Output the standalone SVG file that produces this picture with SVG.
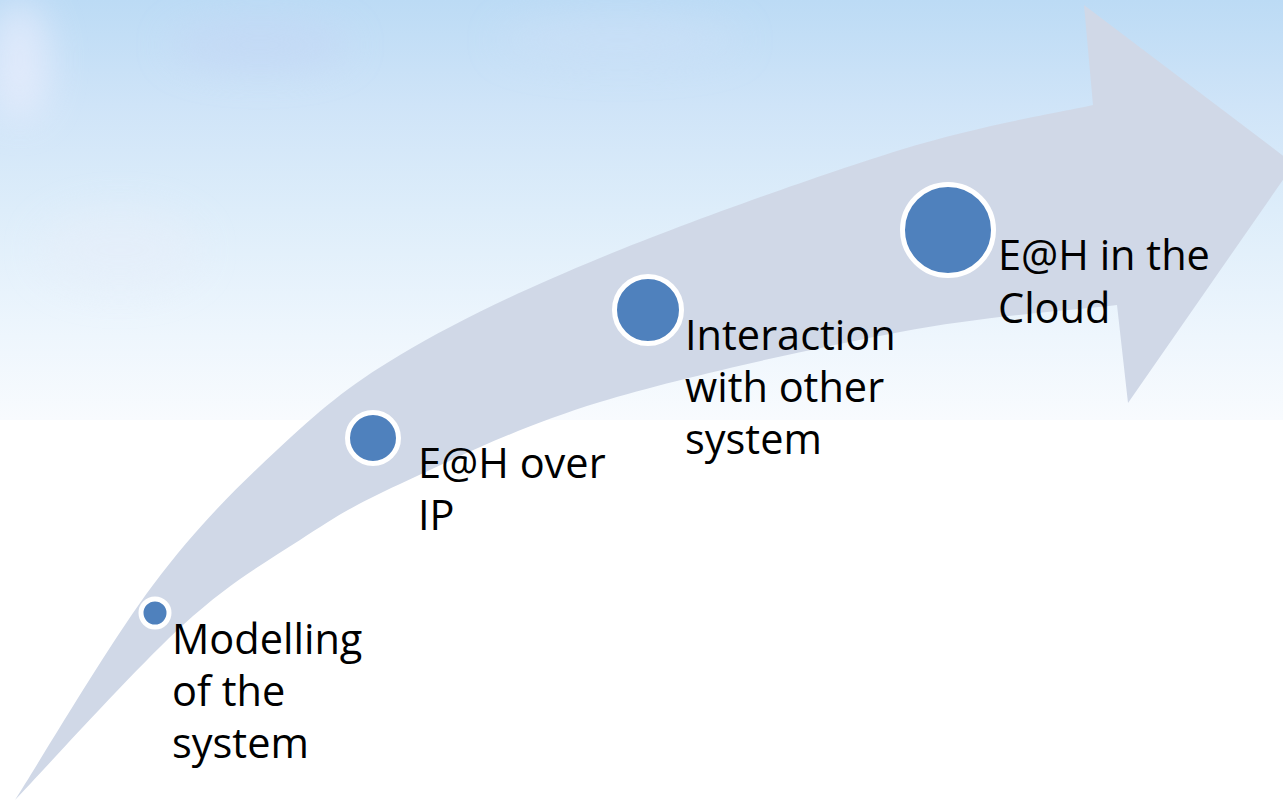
<svg xmlns="http://www.w3.org/2000/svg" width="1283" height="805" viewBox="0 0 1283 805">
  <defs>
    <linearGradient id="sky" x1="0" y1="0" x2="0" y2="1">
      <stop offset="0" stop-color="#bcdbf5"/>
      <stop offset="0.25" stop-color="#cfe4f8"/>
      <stop offset="0.5" stop-color="#ddedfa"/>
      <stop offset="0.8" stop-color="#eef6fd"/>
      <stop offset="1" stop-color="#f8fbfe"/>
    </linearGradient>
    <filter id="blur" x="-50%" y="-50%" width="200%" height="200%">
      <feGaussianBlur stdDeviation="18"/>
    </filter>
    <style>
      .lbl { font-family: "Open Sans", "Noto Sans", "Liberation Sans", sans-serif; font-size: 41.5px; fill: #000000; }
      .dot { fill: #4f81bd; stroke: #ffffff; stroke-width: 5; }
      .arrow { fill: #d0d8e7; }
    </style>
  </defs>

  <rect x="0" y="0" width="1283" height="805" fill="#ffffff"/>
  <rect x="0" y="0" width="1283" height="420" fill="url(#sky)"/>
  <g id="clouds" filter="url(#blur)" opacity="0.55">
    <ellipse cx="20" cy="60" rx="30" ry="60" fill="#f4f2ff"/>
    <ellipse cx="260" cy="45" rx="90" ry="25" fill="#c4d6f5"/>
    <ellipse cx="620" cy="40" rx="120" ry="22" fill="#cde0f7"/>
    <ellipse cx="120" cy="250" rx="80" ry="40" fill="#e6eef9"/>
  </g>

  <g id="connectors">
    <path class="arrow" d="M 15,800
      C 38,764.2 109.3,643.3 153,585
      C 196.7,526.7 235.8,488.3 277,450
      C 318.2,411.7 346.2,387 400,355
      C 453.8,323 516.7,292.2 600,258
      C 683.3,223.8 817.8,175.5 900,150
      C 982.2,124.5 1060.8,112.5 1093,105
      L 1084,5
      L 1294,164
      L 1128,403
      L 1117,305
      C 1080.8,309.5 986.2,315.8 900,332
      C 813.8,348.2 683.3,376.7 600,402
      C 516.7,427.3 450,461 400,484
      C 350,507 336.2,516.5 300,540
      C 263.8,563.5 230.5,581.7 183,625
      C 135.5,668.3 43,770.8 15,800 Z"/>
  </g>

  <g id="node-modelling">
    <circle class="dot" cx="155" cy="613" r="14"/>
    <text class="lbl" x="172" y="654">Modelling</text>
    <text class="lbl" x="172" y="706">of the</text>
    <text class="lbl" x="172" y="758">system</text>
  </g>

  <g id="node-eah-ip">
    <circle class="dot" cx="373" cy="438" r="25.5"/>
    <text class="lbl" x="418" y="478">E@H over</text>
    <text class="lbl" x="418" y="530">IP</text>
  </g>

  <g id="node-interaction">
    <circle class="dot" cx="648" cy="310" r="33.5"/>
    <text class="lbl" x="685" y="350">Interaction</text>
    <text class="lbl" x="685" y="402">with other</text>
    <text class="lbl" x="685" y="454">system</text>
  </g>

  <g id="node-cloud">
    <circle class="dot" cx="948" cy="230" r="45.5"/>
    <text class="lbl" x="998" y="270">E@H in the</text>
    <text class="lbl" x="998" y="323">Cloud</text>
  </g>
</svg>
